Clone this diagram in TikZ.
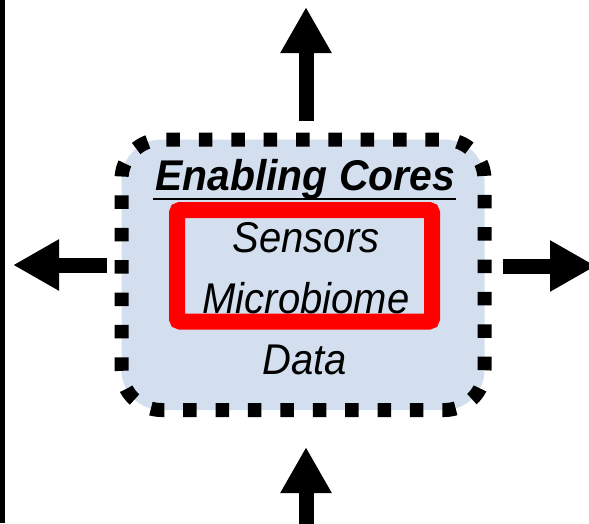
\documentclass[tikz,border=0pt]{standalone}
\usepackage{fontspec}
\newfontfamily\af[FakeStretch=0.93]{Liberation Sans}
\newfontfamily\aft[FakeStretch=0.95]{Liberation Sans}
\usetikzlibrary{arrows.meta}
\definecolor{boxblue}{RGB}{211,223,238}
\definecolor{redline}{RGB}{255,0,0}
\tikzset{
  bigarrow/.style={line width=15pt, -{Triangle[length=46pt,width=48pt]}},
  txt/.style={inner sep=0pt, anchor=base, font=\af\fontsize{43}{50}\selectfont\itshape},
}
\begin{document}
\begin{tikzpicture}[x=1pt,y=-1pt]
\useasboundingbox (0,0) rectangle (589,523);
\clip (0,0) rectangle (589,523);
% left black edge line
\fill[black] (0,0) rectangle (5,523);
% enabling cores box
\draw[fill=boxblue, line width=14pt, dash pattern=on 13.5pt off 18.89pt, rounded corners=40pt]
  (288.25,139.5) -- (484.5,139.5) -- (484.5,410) -- (121.5,410) -- (121.5,139.5) -- cycle;
% red rectangle
\draw[redline, line width=16pt, rounded corners=3pt] (177,210) rectangle (432,321.5);
% texts
\node[txt, font=\aft\fontsize{43}{50}\selectfont\bfseries\itshape] (title) at (305,190) {Enabling Cores};
\draw[line width=2.5pt] ([xshift=-2pt,yshift=-9pt]title.base west) -- ([xshift=1pt,yshift=-9pt]title.base east);
\node[txt] (sensors) at (306,252) {Sensors};
\node[txt] (micro) at (306,313) {Microbiome};
\node[txt] (data) at (305,374) {Data};
% arrow end points
\coordinate (upS) at (306,121);
\coordinate (upE) at (306,7);
\coordinate (lfS) at (107,265);
\coordinate (lfE) at (13,265);
\coordinate (rtS) at (503,266);
\coordinate (rtE) at (596,266);
\coordinate (bmS) at (306,540);
\coordinate (bmE) at (306,447);
\draw[bigarrow] (upS) -- (upE);
\draw[bigarrow] (lfS) -- (lfE);
\draw[bigarrow] (rtS) -- (rtE);
\draw[bigarrow] (bmS) -- (bmE);
\end{tikzpicture}
\end{document}
